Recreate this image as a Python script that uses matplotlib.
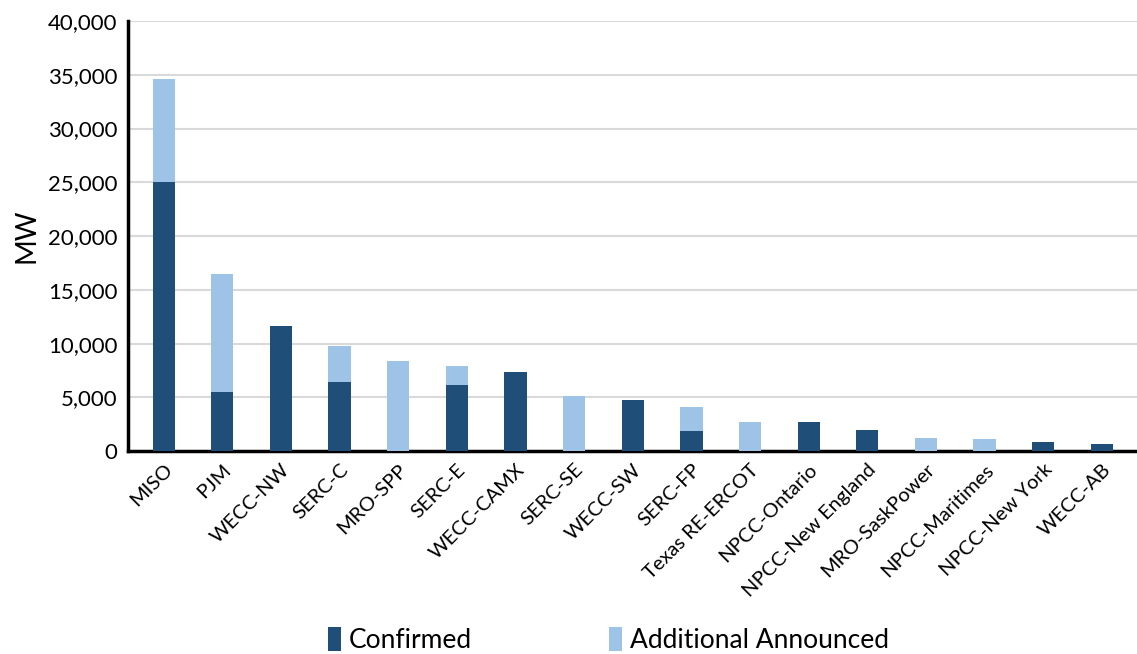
import matplotlib.pyplot as plt
import numpy as np
from matplotlib.ticker import FuncFormatter

plt.rcParams['font.family'] = ['Lato', 'DejaVu Sans']

regions = ['MISO', 'PJM', 'WECC-NW', 'SERC-C', 'MRO-SPP', 'SERC-E', 'WECC-CAMX',
           'SERC-SE', 'WECC-SW', 'SERC-FP', 'Texas RE-ERCOT', 'NPCC-Ontario',
           'NPCC-New England', 'MRO-SaskPower', 'NPCC-Maritimes', 'NPCC-New York', 'WECC-AB']
confirmed = [25000, 5500, 11650, 6450, 0, 6200, 7350, 0, 4750, 1900, 0, 2750, 2000, 0, 0, 900, 720]
additional = [9600, 11000, 0, 3300, 8350, 1700, 0, 5100, 0, 2200, 2750, 0, 0, 1200, 1100, 0, 0]

dark = '#1F4E79'
light = '#9DC3E6'

fig = plt.figure(figsize=(11.37, 6.54), dpi=100)
ax = fig.add_axes([0.113, 0.31, 0.887, 0.658])

x = np.arange(len(regions))
w = 0.38
ax.bar(x, confirmed, w, color=dark, label='Confirmed', zorder=3)
ax.bar(x, additional, w, bottom=confirmed, color=light, label='Additional Announced', zorder=3)

ax.set_ylim(0, 40000)
ax.set_xlim(-0.6, len(regions) - 0.4)
ax.set_yticks(range(0, 40001, 5000))
ax.yaxis.set_major_formatter(FuncFormatter(lambda v, p: f'{int(v):,}'))
ax.grid(axis='y', color='#D9D9D9', linewidth=1.5, zorder=0)
ax.set_axisbelow(True)

ax.set_xticks(x)
ax.set_xticklabels(regions, rotation=45, ha='right', rotation_mode='anchor', fontsize=14.5)
ax.tick_params(axis='y', labelsize=16, length=0, pad=8)
ax.tick_params(axis='x', length=0, pad=7)
ax.set_ylabel('MW', fontsize=20, labelpad=6)

for s in ['top', 'right']:
    ax.spines[s].set_visible(False)
for s in ['left', 'bottom']:
    ax.spines[s].set_linewidth(2.5)
    ax.spines[s].set_color('black')

fig.legend(loc='lower center', bbox_to_anchor=(0.535, -0.035), ncol=2, frameon=False,
           fontsize=19, handlelength=0.5, handleheight=1.0, columnspacing=5.2, handletextpad=0.3)

plt.savefig('out.png', dpi=100)
